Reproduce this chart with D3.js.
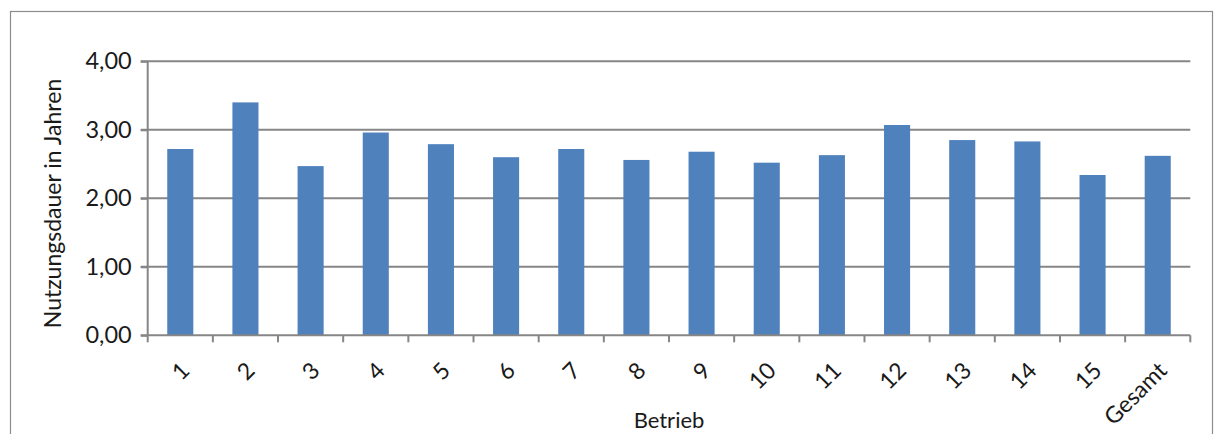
<!DOCTYPE html>
<html>
<head>
<meta charset="utf-8">
<script src="https://cdn.jsdelivr.net/npm/d3@7"></script>
<style>
  html, body { margin: 0; padding: 0; background: #fff; }
  svg { display: block; }
  text { font-family: Lato, "Noto Sans", sans-serif; fill: #1a1a1a; }
</style>
</head>
<body>
<svg id="chart" width="1216" height="434"></svg>
<script>
// Durchschnittliche Nutzungsdauer je Betrieb
const betriebe = ["1","2","3","4","5","6","7","8","9","10","11","12","13","14","15","Gesamt"];
const nutzungsdauer = [2.72, 3.40, 2.47, 2.96, 2.79, 2.60, 2.72, 2.56, 2.68, 2.52, 2.63, 3.07, 2.85, 2.83, 2.34, 2.62];
const yTicks = [0, 1, 2, 3, 4];
const yTitle = "Nutzungsdauer in Jahren";
const xTitle = "Betrieb";

const svg = d3.select("#chart");
const W = 1216, H = 434;
const m = { left: 147.7, right: W - 1190.3, top: 61.3, bottom: H - 335.3 };
const iw = W - m.left - m.right, ih = H - m.top - m.bottom;

const axisColor = "#868686";
const barColor = "#4f81bd";

// outer chart frame (runs off the bottom edge)
svg.append("rect")
  .attr("x", 10.5).attr("y", 11.5)
  .attr("width", 1202).attr("height", 440)
  .attr("fill", "none").attr("stroke", "#8c8c8c").attr("stroke-width", 1.2);

const g = svg.append("g").attr("transform", `translate(${m.left},${m.top})`);

const x = d3.scaleBand().domain(betriebe).range([0, iw]).paddingInner(0.6).paddingOuter(0.3);
const y = d3.scaleLinear().domain([0, 4]).range([ih, 0]);

// horizontal gridlines
g.append("g").selectAll("line").data(yTicks.filter(d => d > 0)).join("line")
  .attr("x1", -7).attr("x2", iw)
  .attr("y1", d => y(d)).attr("y2", d => y(d))
  .attr("stroke", axisColor).attr("stroke-width", 2);

// bars
g.append("g").selectAll("rect").data(betriebe).join("rect")
  .attr("x", (d) => x(d))
  .attr("width", x.bandwidth())
  .attr("y", (d, i) => y(nutzungsdauer[i]))
  .attr("height", (d, i) => ih - y(nutzungsdauer[i]))
  .attr("fill", barColor);

// y axis
const yAxis = g.append("g")
  .call(d3.axisLeft(y).tickValues(yTicks).tickSize(7).tickPadding(9)
    .tickFormat(d => d3.format(".2f")(d).replace(".", ",")));
yAxis.select(".domain").attr("stroke", axisColor).attr("stroke-width", 2).attr("d", `M0,0V${ih}`);
yAxis.selectAll(".tick line").attr("stroke", axisColor).attr("stroke-width", 2);
yAxis.selectAll(".tick text").attr("font-size", 23.5).attr("fill", "#1a1a1a")
  .attr("font-family", "Lato, sans-serif");

// x axis: ticks sit on the category boundaries
const xa = g.append("g").attr("transform", `translate(0,${ih})`);
const bounds = d3.range(betriebe.length + 1).map(i => i * (iw / betriebe.length));
xa.append("line").attr("x1", -7).attr("x2", iw).attr("y1", 0).attr("y2", 0)
  .attr("stroke", axisColor).attr("stroke-width", 2);
xa.selectAll("line.t").data(bounds).join("line").attr("class", "t")
  .attr("x1", d => d).attr("x2", d => d).attr("y1", 0).attr("y2", 7)
  .attr("stroke", axisColor).attr("stroke-width", 2);

xa.selectAll("text.lbl").data(betriebe).join("text").attr("class", "lbl")
  .attr("transform", d => `translate(${x(d) + x.bandwidth() / 2 + 5},${31}) rotate(-45)`)
  .attr("text-anchor", "end")
  .attr("dy", "0.35em")
  .attr("font-size", 23)
  .text(d => d);

// axis titles
svg.append("text")
  .attr("transform", `translate(61,203.5) rotate(-90)`)
  .attr("text-anchor", "middle")
  .attr("font-size", 23)
  .text(yTitle);

svg.append("text")
  .attr("x", m.left + iw / 2).attr("y", 428)
  .attr("text-anchor", "middle")
  .attr("font-size", 22)
  .text(xTitle);
</script>
</body>
</html>
